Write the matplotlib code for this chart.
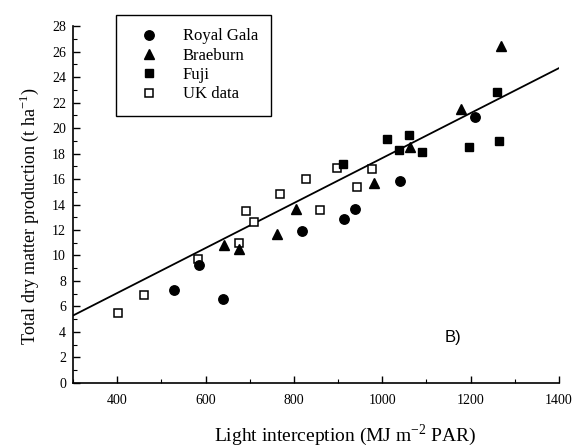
import matplotlib
matplotlib.use("Agg")
import matplotlib.pyplot as plt
import numpy as np
from matplotlib.ticker import MultipleLocator

# Data
royal_gala_x = [529, 585, 640, 818, 913, 938, 1040, 1210]
royal_gala_y = [7.3, 9.25, 6.6, 11.9, 12.9, 13.65, 15.85, 20.9]

braeburn_x = [642, 676, 762, 805, 981, 1063, 1178, 1268]
braeburn_y = [10.8, 10.5, 11.7, 13.65, 15.7, 18.5, 21.5, 26.4]

fuji_x = [911, 1011, 1038, 1061, 1090, 1196, 1260, 1264]
fuji_y = [17.2, 19.1, 18.3, 19.45, 18.1, 18.5, 22.8, 19.0]

uk_x = [402, 461, 583, 676, 692, 710, 769, 828, 859, 898, 943, 977]
uk_y = [5.5, 6.9, 9.7, 11.0, 13.5, 12.6, 14.8, 16.0, 13.6, 16.9, 15.4, 16.8]

fit_slope = 0.01764
fit_intercept = 0.0
fit_range = [300, 1400]

x_ticks = [400, 600, 800, 1000, 1200, 1400]
y_ticks = list(range(0, 29, 2))

plt.rcParams['font.family'] = ['Liberation Serif', 'DejaVu Serif']
plt.rcParams['mathtext.fontset'] = 'custom'
plt.rcParams['mathtext.rm'] = 'Liberation Serif'

fig = plt.figure(figsize=(5.75, 4.47), dpi=100)
ax = fig.add_axes([0.127, 0.1432, 0.845, 0.7986])

fx = np.array(fit_range, dtype=float)
ax.plot(fx, fit_intercept + fit_slope * fx, color='black', lw=1.3, zorder=1)

ms = 6.8
ax.plot(royal_gala_x, royal_gala_y, 'o', color='black', ms=ms, ls='none', label='Royal Gala', zorder=3)
ax.plot(braeburn_x, braeburn_y, '^', color='black', ms=ms + 0.5, ls='none', label='Braeburn', zorder=3)
ax.plot(fuji_x, fuji_y, 's', color='black', ms=ms - 0.5, ls='none', label='Fuji', zorder=3)
ax.plot(uk_x, uk_y, 's', mfc='white', mec='black', mew=1.1, ms=ms - 0.5, ls='none', label='UK data', zorder=2)

ax.set_xlim(300, 1400)
ax.set_ylim(0, 28)
ax.set_xticks(x_ticks)
ax.set_yticks(y_ticks)
ax.xaxis.set_minor_locator(MultipleLocator(100))
ax.yaxis.set_minor_locator(MultipleLocator(1))
ax.tick_params(which='major', direction='in', length=5, width=1, labelsize=10)
ax.tick_params(axis='x', which='major', pad=8)
ax.tick_params(axis='y', which='major', pad=5)
ax.tick_params(which='minor', direction='in', length=3, width=0.8)

for s in ['top', 'right']:
    ax.spines[s].set_visible(False)
for s in ['left', 'bottom']:
    ax.spines[s].set_linewidth(1.2)

ax.set_xlabel('Light interception (MJ m$^{-2}$ PAR)', fontsize=14)
ax.xaxis.set_label_coords(0.56, -0.147)
ax.xaxis.label.set_va('center')
ax.set_ylabel('Total dry matter production (t ha$^{-1}$)', fontsize=13)
ax.yaxis.set_label_coords(-0.089, 0.468)
ax.yaxis.label.set_va('center')

ax.text(1160, 3.6, 'B)', fontsize=12, family='Liberation Sans', ha='center', va='center')

leg = ax.legend(loc='upper left', bbox_to_anchor=(116 / 575, 1 - 15 / 447),
                bbox_transform=fig.transFigure, fontsize=12, frameon=True,
                fancybox=False, edgecolor='black', framealpha=1,
                handletextpad=0.8, labelspacing=0.2, borderpad=0.8,
                handlelength=2.4, borderaxespad=0)
leg.get_frame().set_linewidth(1.0)

fig.savefig('out.png', dpi=100)
